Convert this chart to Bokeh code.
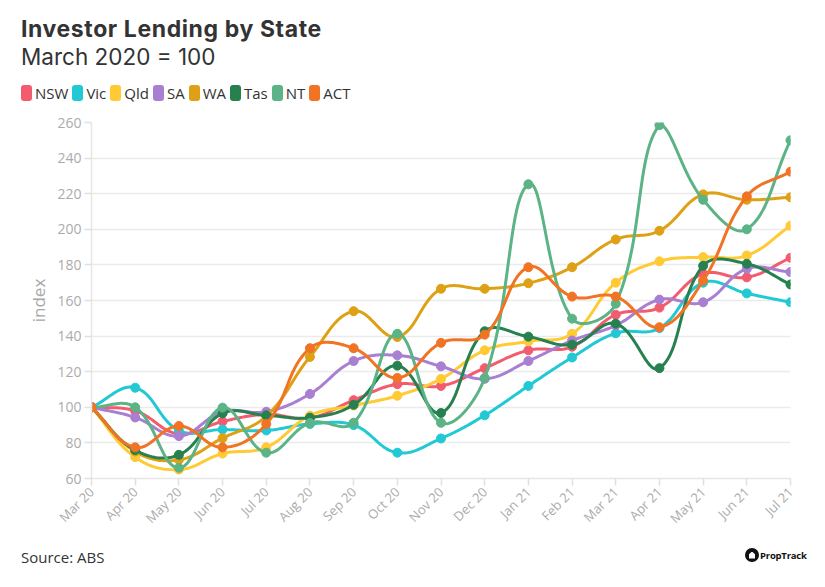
import math
from bokeh.plotting import figure
from bokeh.layouts import column
from bokeh.models import Range1d, FixedTicker, Div
from bokeh.embed import file_html
from bokeh.resources import INLINE

months = ["Mar 20", "Apr 20", "May 20", "Jun 20", "Jul 20", "Aug 20", "Sep 20", "Oct 20",
          "Nov 20", "Dec 20", "Jan 21", "Feb 21", "Mar 21", "Apr 21", "May 21", "Jun 21", "Jul 21"]

nsw = [100, 98, 85, 92, 96, 94, 104, 113, 112, 122, 132, 134, 152, 156, 175, 173, 184]
vic = [100, 111, 87, 87.5, 87, 90.6, 90, 74.5, 82.5, 95.5, 112, 128, 141.6, 144.5, 170, 164, 159]
qld = [100, 72, 65, 74, 77.5, 95.3, 101, 106.5, 116, 132, 137, 141.3, 170, 182, 184.4, 185.3, 202]
sa = [100, 94.3, 83.8, 97.5, 97.5, 107.5, 126, 129.2, 123, 116, 126, 137.5, 146, 160.5, 159, 177.8, 176]
wa = [100, 75.2, 70.5, 82.7, 95, 128.3, 154, 139.5, 166.6, 166.6, 169.7, 178.7, 194.3, 199.2, 219.6, 216.6, 218]
tas = [100, 76, 73.3, 96.6, 95.5, 94.2, 101.4, 123.4, 96.8, 142.7, 139.7, 135.2, 147, 122, 179.5, 180.6, 169]
nt = [100, 100, 66, 99.8, 74.5, 91.2, 91.3, 141.3, 91.3, 116.5, 225.3, 149.8, 158.2, 258.5, 216.6, 200, 250]
act = [100, 77.5, 89.5, 77.5, 90.6, 133.2, 133.2, 116.5, 136.2, 140.8, 178.7, 162.2, 162.2, 145, 171.2, 218.5, 232.4]

series_names = ["NSW", "Vic", "Qld", "SA", "WA", "Tas", "NT", "ACT"]
series_values = [nsw, vic, qld, sa, wa, tas, nt, act]
series_colors = ["#F25C6E", "#22C9D4", "#FFCA33", "#A97FD2", "#DEA115", "#26804F", "#5BB386", "#F07424"]

y_ticks = [60, 80, 100, 120, 140, 160, 180, 200, 220, 240, 260]

FONT = "Open Sans"
HFONT = "Inter"
W = 817
HEAD_H = 110            # header strip (title, subtitle, legend)
MAIN_BOTTOM = 540       # page y where the main chart canvas ends
FOOT_H = 579 - MAIN_BOTTOM
FL, FT, FR, FB = 91, 122, 790, 478  # frame edges in page px
FW, FH = FR - FL, FB - FT
X0, X1 = 0, len(months) - 1
Y0, Y1 = 60, 260
sxu = FW / (X1 - X0)
syu = FH / (Y1 - Y0)


def smooth(ys, tension=0.4, steps=24):
    pts = [(i * sxu, (v - Y0) * syu) for i, v in enumerate(ys)]
    n = len(pts)
    cps = []
    for i in range(n):
        cur = pts[i]
        prev = pts[i - 1] if i > 0 else cur
        nxt = pts[i + 1] if i < n - 1 else cur
        d01 = math.dist(cur, prev)
        d12 = math.dist(nxt, cur)
        tot = d01 + d12
        s01 = d01 / tot if tot else 0
        s12 = d12 / tot if tot else 0
        fa, fb = tension * s01, tension * s12
        cp_prev = [cur[0] - fa * (nxt[0] - prev[0]), cur[1] - fa * (nxt[1] - prev[1])]
        cp_next = [cur[0] + fb * (nxt[0] - prev[0]), cur[1] + fb * (nxt[1] - prev[1])]
        for cp in (cp_prev, cp_next):
            cp[0] = min(max(cp[0], 0), FW)
            cp[1] = min(max(cp[1], 0), FH)
        cps.append((cp_prev, cp_next))
    xs, yv = [], []
    for i in range(n - 1):
        p0 = pts[i]
        c1 = cps[i][1]
        c2 = cps[i + 1][0]
        p3 = pts[i + 1]
        for k in range(steps + (1 if i == n - 2 else 0)):
            t = k / steps
            a = (1 - t) ** 3
            b = 3 * (1 - t) ** 2 * t
            c = 3 * (1 - t) * t ** 2
            d = t ** 3
            px = a * p0[0] + b * c1[0] + c * c2[0] + d * p3[0]
            py = a * p0[1] + b * c1[1] + c * c2[1] + d * p3[1]
            xs.append(px / sxu)
            yv.append(py / syu + Y0)
    return xs, yv


# ---------------- main chart ----------------
main_h = MAIN_BOTTOM - HEAD_H
p = figure(width=W, height=main_h, output_backend="svg", toolbar_location=None,
           x_range=Range1d(X0, X1), y_range=Range1d(Y0, Y1),
           min_border_left=FL, min_border_top=FT - HEAD_H, min_border_right=W - FR,
           min_border_bottom=MAIN_BOTTOM - FB)
p.outline_line_color = None
p.background_fill_color = "white"
p.border_fill_color = "white"

p.xgrid.visible = False
p.ygrid.grid_line_color = "#EBEBEB"
p.ygrid.grid_line_width = 1.5
p.ygrid.ticker = FixedTicker(ticks=y_ticks)

p.yaxis.ticker = FixedTicker(ticks=y_ticks)
p.xaxis.ticker = FixedTicker(ticks=list(range(len(months))))
p.xaxis.major_label_overrides = {i: m for i, m in enumerate(months)}
p.xaxis.major_label_orientation = math.pi / 4

for ax in (p.xaxis, p.yaxis):
    ax.axis_line_color = "#E6E6E6"
    ax.axis_line_width = 1.5
    ax.major_tick_line_color = "#E0E0E0"
    ax.major_tick_line_width = 1.5
    ax.major_tick_out = 7
    ax.major_tick_in = 0
    ax.minor_tick_line_color = None
    ax.major_label_text_font = FONT
    ax.major_label_text_color = "#ABABAB"
    ax.major_label_text_font_size = "14px"
    ax.major_label_standoff = 3

p.xaxis.major_label_text_font_size = "13px"
p.xaxis.major_label_standoff = 4
p.yaxis.axis_label = "index"
p.yaxis.axis_label_text_font = FONT
p.yaxis.axis_label_text_font_style = "normal"
p.yaxis.axis_label_text_font_size = "17px"
p.yaxis.axis_label_text_color = "#A8A8A8"
p.yaxis.axis_label_standoff = 4

for name, vals, col in zip(series_names, series_values, series_colors):
    cx, cy = smooth(vals)
    p.line(cx, cy, line_color=col, line_width=3, line_join="round", line_cap="round")
    p.scatter(list(range(len(vals))), vals, size=9, fill_color=col, line_color=col)

# ---------------- header (title, subtitle, legend) ----------------
legend_html = "".join(
    f'<span style="display:flex;align-items:center;margin-right:4px;">'
    f'<span style="display:inline-block;width:11px;height:16px;border-radius:3px;'
    f'background:{c};margin-right:3px;"></span>'
    f'<span style="font-family:\'{FONT}\';font-size:15px;line-height:16px;color:#333333;">{n}</span></span>'
    for n, c in zip(series_names, series_colors))

head_html = (
    f'<div style="position:relative;width:{W}px;height:{HEAD_H}px;'
    f'font-family:\'{HFONT}\';color:#333333;">'
    f'<div style="position:absolute;left:21px;top:17.6px;font-size:23px;font-weight:bold;'
    f'letter-spacing:0.6px;line-height:1;white-space:nowrap;">Investor Lending by State</div>'
    f'<div style="position:absolute;left:21px;top:46px;font-size:22.5px;'
    f'line-height:1;white-space:nowrap;">March 2020 = 100</div>'
    f'<div style="position:absolute;left:21px;top:85px;height:16px;display:flex;'
    f'white-space:nowrap;">{legend_html}</div>'
    f'</div>')
head = Div(text=head_html, width=W, height=HEAD_H, styles={"margin": "0", "padding": "0"})

# ---------------- footer ----------------
foot_html = (
    f'<div style="position:relative;width:{W}px;height:{FOOT_H}px;'
    f'font-family:\'{FONT}\';color:#333333;">'
    f'<div style="position:absolute;left:21px;top:10px;font-size:15px;line-height:1;'
    f'white-space:nowrap;">Source: ABS</div>'
    f'<div style="position:absolute;left:745px;top:8px;width:14px;height:14px;'
    f'border-radius:50%;background:#111111;">'
    f'<div style="position:absolute;left:4px;top:3.5px;width:6px;height:7px;background:#ffffff;'
    f'clip-path:polygon(50% 0,100% 40%,100% 100%,0 100%,0 40%);"></div></div>'
    f'<div style="position:absolute;left:760px;top:9.5px;font-size:9.5px;font-weight:bold;'
    f'line-height:11px;color:#111111;white-space:nowrap;letter-spacing:-0.2px;">PropTrack</div>'
    f'</div>')
foot = Div(text=foot_html, width=W, height=FOOT_H, styles={"margin": "0", "padding": "0"})

layout = column(head, p, foot, spacing=0)
open("out.html", "w").write(file_html(layout, INLINE))
